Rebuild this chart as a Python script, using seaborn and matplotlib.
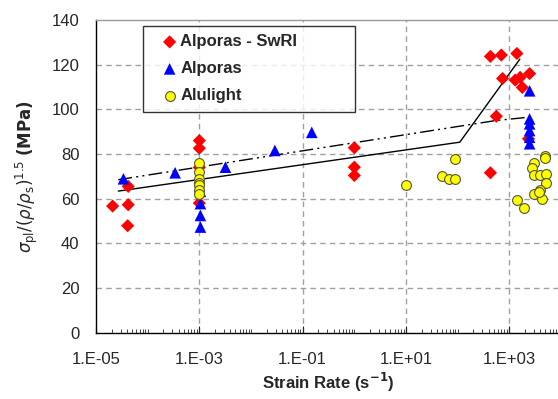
import numpy as np
import pandas as pd
import seaborn as sns
import matplotlib
matplotlib.use("Agg")
import matplotlib.pyplot as plt
from matplotlib.ticker import FixedLocator, FixedFormatter, LogLocator, NullFormatter

# ---------------- data ----------------
swri_x = [2.1e-5, 4.2e-5, 4.1e-5, 4.2e-5, 1e-3, 1e-3, 1e-3, 1e-3, 1.0, 1.0, 1.0,
          430, 430, 700, 1400, 740, 1300, 1620, 2470, 1780, 560, 2350]
swri_y = [56.7, 57.3, 47.9, 65.5, 86.0, 82.6, 74.0, 58.0, 82.8, 74.1, 70.4,
          71.6, 123.7, 124.3, 125.0, 113.8, 113.1, 114.3, 116.0, 109.8, 96.9, 86.8]

alporas_x = [3.4e-5, 3.4e-4, 1.05e-3, 1.05e-3, 1.05e-3, 1.05e-3, 3.2e-3, 0.029, 0.15,
             2470, 2470, 2470, 2470, 2470, 2470]
alporas_y = [68.9, 71.6, 63.3, 57.8, 52.5, 47.3, 74.1, 81.6, 89.7,
             108.3, 95.7, 93.5, 90.5, 87.5, 84.6]

alulight_x = [9.8e-4, 9.8e-4, 9.8e-4, 9.8e-4, 9.8e-4, 9.8e-4, 9.8e-4,
              10, 50, 67, 89, 90,
              1410, 1900, 2950, 2760, 2950, 4000, 5200, 5200, 4800, 4900,
              2950, 4000, 4200, 3700]
alulight_y = [76.0, 72.0, 69.0, 67.0, 66.0, 64.0, 62.0,
              66.1, 70.1, 68.9, 68.9, 77.8,
              59.2, 56.0, 76.1, 73.8, 70.4, 70.4, 71.2, 67.1, 79.0, 78.0,
              62.2, 63.7, 59.7, 62.9]

solid_x = [2.7e-5, 110, 1600]
solid_y = [63.4, 85.3, 122.5]
dashdot_x = [2.7e-5, 550, 2000]
dashdot_y = [68.5, 95.0, 96.3]

series_names = ["Alporas - SwRI", "Alporas", "Alulight"]
xtick_values = [1e-5, 1e-3, 1e-1, 1e1, 1e3]
xtick_labels = ["1.E-05", "1.E-03", "1.E-01", "1.E+01", "1.E+03"]
ytick_values = [0, 20, 40, 60, 80, 100, 120, 140]

# ---------------- figure ----------------
sns.set_style("white")
plt.rcParams['font.family'] = ['Liberation Sans', 'DejaVu Sans']
plt.rcParams['mathtext.fontset'] = 'dejavusans'

fig = plt.figure(figsize=(5.58, 3.99), dpi=100)
ax = fig.add_axes([96 / 558, 1 - 332.7 / 399, 465 / 558, (332.7 - 20) / 399])

grid_kw = dict(color="#a0a0a0", linewidth=1.0, linestyle=(0, (4, 3)), zorder=0)
for v in ytick_values[1:-1]:
    ax.axhline(v, **grid_kw)
for v in xtick_values[1:]:
    ax.axvline(v, **grid_kw)

df_line1 = pd.DataFrame({"x": solid_x, "y": solid_y})
df_line2 = pd.DataFrame({"x": dashdot_x, "y": dashdot_y})
sns.lineplot(data=df_line1, x="x", y="y", ax=ax, color="black", linewidth=1.0,
             estimator=None, sort=False, zorder=2, legend=False)
sns.lineplot(data=df_line2, x="x", y="y", ax=ax, color="black", linewidth=1.0,
             estimator=None, sort=False, zorder=2, legend=False,
             linestyle=(0, (10, 3, 1.5, 3, 1.5, 3)))

df1 = pd.DataFrame({"x": swri_x, "y": swri_y})
df2 = pd.DataFrame({"x": alporas_x, "y": alporas_y})
df3 = pd.DataFrame({"x": alulight_x, "y": alulight_y})
sns.scatterplot(data=df1, x="x", y="y", ax=ax, marker="D", s=45, color="#ff0000",
                edgecolor="none", label=series_names[0], zorder=3)
sns.scatterplot(data=df2, x="x", y="y", ax=ax, marker="^", s=70, color="#0000ff",
                edgecolor="none", label=series_names[1], zorder=3)
sns.scatterplot(data=df3, x="x", y="y", ax=ax, marker="o", s=50, color="#ffff00",
                edgecolor="#555533", linewidth=0.8, label=series_names[2], zorder=4)

ax.set_xscale("log")
ax.set_xlim(1e-5, 1e4)
ax.set_ylim(0, 140)

ax.xaxis.set_major_locator(FixedLocator(xtick_values))
ax.xaxis.set_major_formatter(FixedFormatter(xtick_labels))
ax.xaxis.set_minor_locator(LogLocator(base=10, subs=np.arange(1, 10), numticks=50))
ax.xaxis.set_minor_formatter(NullFormatter())
ax.tick_params(axis="x", which="major", direction="in", length=5, width=0.8,
               labelsize=12, pad=14, bottom=True)
ax.tick_params(axis="x", which="minor", direction="in", length=3, width=0.6, bottom=True)
ax.set_yticks(ytick_values)
ax.tick_params(axis="y", length=0, labelsize=12, pad=12)

for s in ["left", "bottom"]:
    ax.spines[s].set_color("black")
    ax.spines[s].set_linewidth(1.0)
for s in ["top", "right"]:
    ax.spines[s].set_color("#999999")
    ax.spines[s].set_linewidth(1.0)

ax.set_xlabel(r"Strain Rate (s$^{\mathbf{-1}}$)", fontsize=12, fontweight="bold", labelpad=3)
ax.set_ylabel(r"$\sigma_{\mathrm{pl}}/(\rho/\rho_{\mathrm{s}})^{1.5}$ $\mathbf{(MPa)}$",
              fontsize=12, labelpad=8)

leg = ax.legend(loc="upper left", bbox_to_anchor=(0.101, 0.5, 0.456, 0.481),
                mode="expand", frameon=True, fancybox=False, edgecolor="black",
                prop={"weight": "bold", "size": 12}, handlelength=2.2,
                handletextpad=-0.45, labelspacing=0.72, borderpad=0.5,
                borderaxespad=0.0, markerscale=1.0)
leg.get_frame().set_linewidth(1.0)

fig.savefig("out.png", dpi=100)
